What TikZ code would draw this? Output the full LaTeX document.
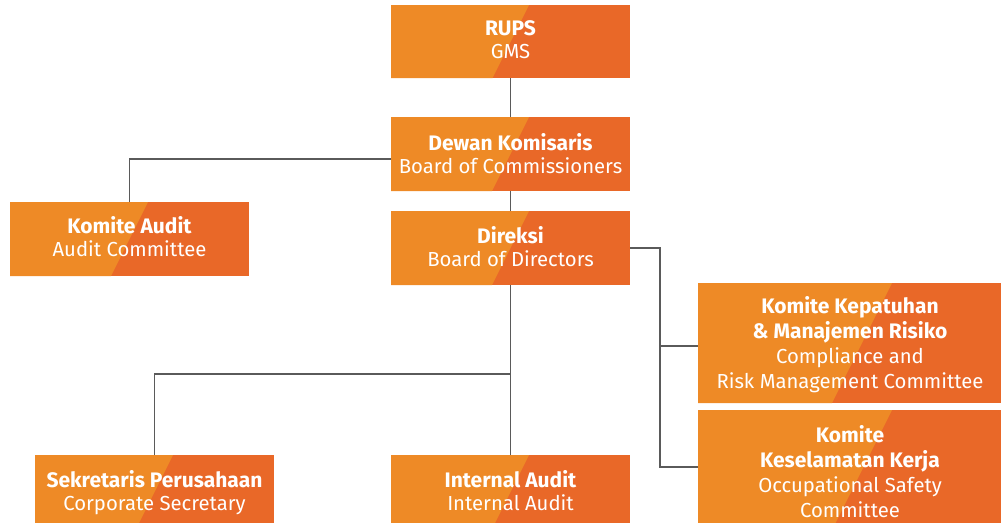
\documentclass[tikz,border=0pt]{standalone}
\usepackage{fontspec}
\setmainfont{Fira Sans}
\definecolor{orgLight}{HTML}{EE8A26}
\definecolor{orgDark}{HTML}{E96828}
\definecolor{wireGray}{HTML}{5A5A5A}
\newcommand\boxtitle[1]{{\fontsize{21}{23}\selectfont\bfseries #1}}
\tikzset{
  wire/.style={draw=wireGray,line width=1.8pt},
  boxshape/.style={inner sep=0pt,outer sep=0pt,draw=none},
  boxtext/.style={inner sep=0pt,text=white,align=center,
    font=\fontsize{20.3}{23}\selectfont},
  tall/.style={font=\fontsize{20.3}{25}\selectfont}
}
% #1 text options, #2 name, #3 left, #4 top, #5 width, #6 height,
% #7 split offset along the top edge, #8 first baseline below top, #9 text
\newcommand\orgbox[9][]{%
  \fill[orgDark] (#3,#4) rectangle ++(#5,#6);
  \fill[orgLight] (#3,#4) -- ({#3+#7},#4) -- ({#3+#7-0.5*#6},{#4+#6})
    -- (#3,{#4+#6}) -- cycle;
  \node[boxshape,minimum width=#5pt,minimum height=#6pt] (#2)
    at ({#3+0.5*#5},{#4+0.5*#6}) {};
  \node[boxtext,anchor=north,#1] (#2-t)
    at ({#3+0.5*#5},{#4+#8-17}) {\rule{0pt}{17pt}#9};
}
\begin{document}
\begin{tikzpicture}[x=1pt,y=-1pt]
\useasboundingbox (0,0) rectangle (1001,522);
\clip (0,0) rectangle (1001,522);

\orgbox{rups}{391}{5}{239}{73}{138}{30}{\boxtitle{RUPS}\\GMS}
\orgbox{dk}{391}{117}{239}{74}{138}{33}{\boxtitle{Dewan Komisaris}\\Board of Commissioners}
\orgbox{ka}{10}{202}{239}{74}{138}{31}{\boxtitle{Komite Audit}\\Audit Committee}
\orgbox{dir}{391}{211}{239}{74}{138}{32}{\boxtitle{Direksi}\\Board of Directors}
\orgbox[tall]{kk}{698}{283}{304}{120}{194}{30}{\boxtitle{Komite Kepatuhan}\\\boxtitle{\& Manajemen Risiko}\\Compliance and\\Risk Management Committee}
\orgbox[tall]{kks}{698}{410}{304}{122}{194}{32}{\boxtitle{Komite}\\\boxtitle{Keselamatan Kerja}\\Occupational Safety\\Committee}
\orgbox{sp}{35}{455}{239}{74}{138}{32}{\boxtitle{Sekretaris Perusahaan}\\Corporate Secretary}
\orgbox{ia}{391}{455}{239}{74}{138}{32}{\boxtitle{Internal Audit}\\Internal Audit}

% reporting lines
\draw[wire] (rups.south) -- (dk.north);
\draw[wire] (dk.south) -- (dir.north);
\draw[wire] ([yshift=-5pt]dk.west) -| (ka.north);

\coordinate (rbus) at (660,248);
\coordinate (kkjoin) at (660,345.7);
\draw[wire] (dir.east) -- (rbus) |- ([yshift=4.3pt]kks.west);
\draw[wire] (kkjoin) -- (kkjoin -| kk.west);

\coordinate (lbus) at (510.5,374);
\draw[wire] (dir.south) -- (ia.north);
\draw[wire] (lbus) -| (sp.north);
\end{tikzpicture}
\end{document}
